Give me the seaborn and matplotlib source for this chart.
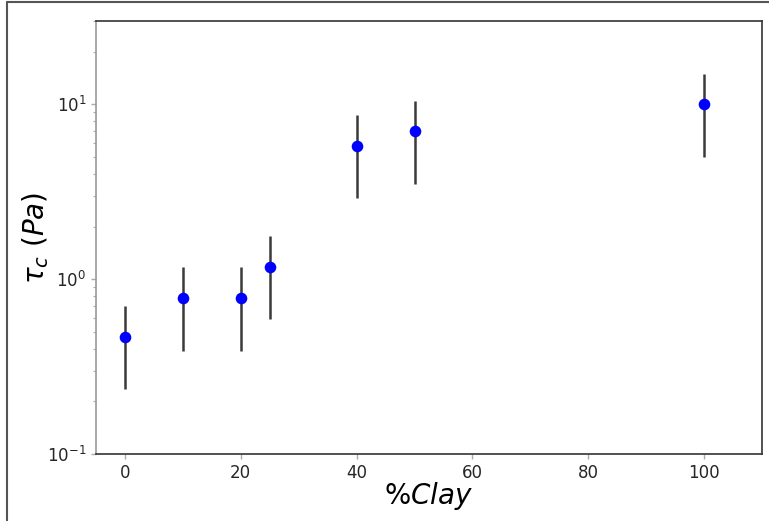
import numpy as np
import pandas as pd
import matplotlib
matplotlib.use('Agg')
import matplotlib.pyplot as plt
from matplotlib.lines import Line2D
import seaborn as sns

# data
clay = [0, 10, 20, 25, 40, 50, 100]
tau_c = [0.47, 0.78, 0.78, 1.18, 5.8, 7.0, 10.0]
tau_err = [0.235, 0.39, 0.39, 0.59, 2.9, 3.5, 5.0]

sns.set_style('ticks')
plt.rcParams['font.family'] = ['DejaVu Sans']

Datas = pd.DataFrame({'clay': clay, 'tau': tau_c, 'err': tau_err})

fig, ax = plt.subplots(figsize=(7.69, 5.21), dpi=100)
fig.subplots_adjust(left=96 / 769, right=762 / 769, top=1 - 21 / 521, bottom=1 - 454 / 521)

# error bars then points on top
ax.errorbar(Datas['clay'], Datas['tau'], yerr=Datas['err'], fmt='none',
            ecolor='#3a3a3a', elinewidth=1.8, capsize=0, zorder=2)
sns.scatterplot(data=Datas, x='clay', y='tau', color='blue', s=70,
                edgecolor='blue', linewidth=0, ax=ax, zorder=3)

ax.set_yscale('log')
ax.set_xlim(-5, 110)
ax.set_ylim(0.1, 30)
ax.set_xticks([0, 20, 40, 60, 80, 100])
ax.set_xlabel('$\\%Clay$', fontsize=20, labelpad=-1, color='black')
ax.set_ylabel('$\\tau_c\\ (Pa)$', fontsize=20, labelpad=-3, color='black')
ax.tick_params(axis='both', which='major', labelsize=12, length=3.5, color='#aaaaaa', width=1)
ax.tick_params(axis='both', which='minor', length=2, color='#aaaaaa', width=0.8)
for sp in ax.spines.values():
    sp.set_color('#333333')
    sp.set_linewidth(1.2)
ax.spines['left'].set_color('#999999')

# partial outer frame visible in the reference
fig.add_artist(Line2D([7 / 769, 7 / 769], [0, 1 - 2 / 521], transform=fig.transFigure,
                      color='#555555', lw=1.5))
fig.add_artist(Line2D([7 / 769, 1], [1 - 2 / 521, 1 - 2 / 521], transform=fig.transFigure,
                      color='#555555', lw=1.5))

fig.savefig('out.png', dpi=100)
